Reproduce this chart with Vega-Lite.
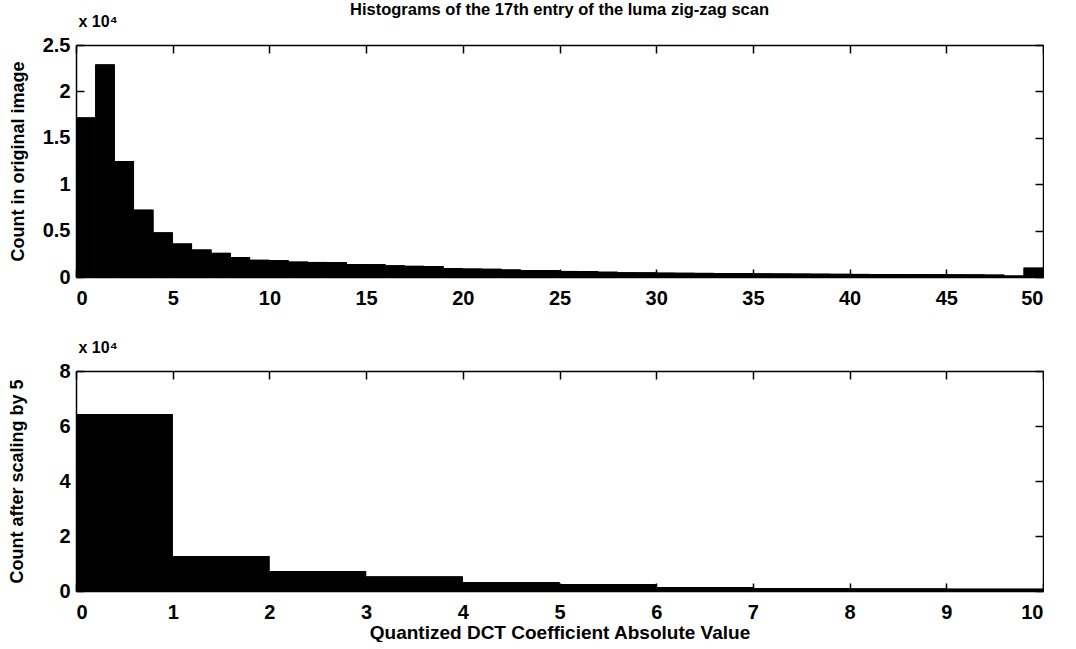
{
  "$schema": "https://vega.github.io/schema/vega-lite/v6.json",
  "background": "white",
  "padding": {"left": 8, "top": 1, "right": 0, "bottom": 0},
  "autosize": {"type": "pad"},
  "datasets": {
    "orig": [
      {"start": 0, "end": 1, "count": 17200},
      {"start": 1, "end": 2, "count": 22900},
      {"start": 2, "end": 3, "count": 12500},
      {"start": 3, "end": 4, "count": 7250},
      {"start": 4, "end": 5, "count": 4800},
      {"start": 5, "end": 6, "count": 3600},
      {"start": 6, "end": 7, "count": 2950},
      {"start": 7, "end": 8, "count": 2600},
      {"start": 8, "end": 9, "count": 2150},
      {"start": 9, "end": 10, "count": 1850},
      {"start": 10, "end": 11, "count": 1800},
      {"start": 11, "end": 12, "count": 1650},
      {"start": 12, "end": 13, "count": 1620},
      {"start": 13, "end": 14, "count": 1580},
      {"start": 14, "end": 15, "count": 1400},
      {"start": 15, "end": 16, "count": 1370},
      {"start": 16, "end": 17, "count": 1250},
      {"start": 17, "end": 18, "count": 1200},
      {"start": 18, "end": 19, "count": 1180},
      {"start": 19, "end": 20, "count": 950},
      {"start": 20, "end": 21, "count": 900},
      {"start": 21, "end": 22, "count": 880},
      {"start": 22, "end": 23, "count": 800},
      {"start": 23, "end": 24, "count": 750},
      {"start": 24, "end": 25, "count": 740},
      {"start": 25, "end": 26, "count": 650},
      {"start": 26, "end": 27, "count": 640},
      {"start": 27, "end": 28, "count": 560},
      {"start": 28, "end": 29, "count": 500},
      {"start": 29, "end": 30, "count": 490},
      {"start": 30, "end": 31, "count": 460},
      {"start": 31, "end": 32, "count": 450},
      {"start": 32, "end": 33, "count": 440},
      {"start": 33, "end": 34, "count": 430},
      {"start": 34, "end": 35, "count": 420},
      {"start": 35, "end": 36, "count": 380},
      {"start": 36, "end": 37, "count": 370},
      {"start": 37, "end": 38, "count": 360},
      {"start": 38, "end": 39, "count": 350},
      {"start": 39, "end": 40, "count": 340},
      {"start": 40, "end": 41, "count": 330},
      {"start": 41, "end": 42, "count": 320},
      {"start": 42, "end": 43, "count": 310},
      {"start": 43, "end": 44, "count": 300},
      {"start": 44, "end": 45, "count": 290},
      {"start": 45, "end": 46, "count": 280},
      {"start": 46, "end": 47, "count": 270},
      {"start": 47, "end": 48, "count": 250},
      {"start": 48, "end": 49, "count": 150},
      {"start": 49, "end": 50, "count": 1000}
    ],
    "scaled": [
      {"start": 0, "end": 1, "count": 64400},
      {"start": 1, "end": 2, "count": 12600},
      {"start": 2, "end": 3, "count": 7300},
      {"start": 3, "end": 4, "count": 5300},
      {"start": 4, "end": 5, "count": 3200},
      {"start": 5, "end": 6, "count": 2500},
      {"start": 6, "end": 7, "count": 1500},
      {"start": 7, "end": 8, "count": 1000},
      {"start": 8, "end": 9, "count": 900},
      {"start": 9, "end": 10, "count": 800}
    ]
  },
  "config": {
    "font": "Liberation Sans",
    "view": {"stroke": null},
    "axis": {
      "grid": false,
      "domainColor": "black",
      "domainWidth": 1.5,
      "tickColor": "black",
      "tickWidth": 1.5,
      "tickSize": -8,
      "labelFont": "Liberation Sans",
      "labelFontSize": 20,
      "labelFontWeight": "bold",
      "labelColor": "black",
      "titleFont": "Liberation Sans",
      "titleFontSize": 18,
      "titleFontWeight": "bold",
      "titleColor": "black"
    },
    "title": {"font": "Liberation Sans", "fontWeight": "bold", "color": "black"}
  },
  "vconcat": [
    {
      "width": 967,
      "height": 232,
      "data": {"name": "orig"},
      "title": {"text": "Histograms of the 17th entry of the luma zig-zag scan", "fontSize": 16.5, "anchor": "middle", "offset": -5},
      "layer": [
        {
          "mark": {"type": "bar", "color": "black"},
          "encoding": {
            "x": {"field": "start", "type": "quantitative", "scale": {"domain": [0, 50], "nice": false},
                  "axis": {"orient": "bottom", "values": [0,5,10,15,20,25,30,35,40,45,50], "title": null, "labelPadding": 19}},
            "x2": {"field": "end"},
            "y": {"field": "count", "type": "quantitative", "scale": {"domain": [0, 25000], "nice": false},
                  "axis": {"orient": "left", "values": [0,5000,10000,15000,20000,25000], "labelExpr": "datum.value / 10000", "labelPadding": 14, "title": "Count in original image", "titlePadding": 15}},
            "y2": {"datum": 0}
          }
        },
        {
          "mark": {"type": "bar", "color": "black"},
          "encoding": {
            "x": {"field": "start", "type": "quantitative", "scale": {"domain": [0, 50], "nice": false},
                  "axis": {"orient": "top", "values": [0,5,10,15,20,25,30,35,40,45,50], "labels": false, "title": null}},
            "x2": {"field": "end"},
            "y": {"field": "count", "type": "quantitative", "scale": {"domain": [0, 25000], "nice": false},
                  "axis": {"orient": "right", "values": [0,5000,10000,15000,20000,25000], "labels": false, "title": null}},
            "y2": {"datum": 0}
          }
        },
        {
          "mark": {"type": "bar", "color": "black"},
          "encoding": {
            "x": {"field": "start", "type": "quantitative", "axis": null},
            "x2": {"field": "end"},
            "y": {"field": "count", "type": "quantitative",
                  "axis": {"orient": "left", "domain": false, "ticks": false, "labels": false, "title": "x 10⁴", "titleAngle": 0, "titleX": 2, "titleY": -16, "titleAlign": "left", "titleBaseline": "bottom", "titleFontSize": 16}},
            "y2": {"datum": 0}
          }
        }
      ],
      "resolve": {"axis": {"x": "independent", "y": "independent"}}
    },
    {
      "width": 967,
      "height": 220,
      "data": {"name": "scaled"},
      "layer": [
        {
          "mark": {"type": "bar", "color": "black"},
          "encoding": {
            "x": {"field": "start", "type": "quantitative", "scale": {"domain": [0, 10], "nice": false},
                  "axis": {"orient": "bottom", "values": [0,1,2,3,4,5,6,7,8,9,10], "title": "Quantized DCT Coefficient Absolute Value", "titleFontSize": 19, "labelPadding": 19, "titlePadding": 1}},
            "x2": {"field": "end"},
            "y": {"field": "count", "type": "quantitative", "scale": {"domain": [0, 80000], "nice": false},
                  "axis": {"orient": "left", "values": [0,20000,40000,60000,80000], "labelExpr": "datum.value / 10000", "labelPadding": 14, "title": "Count after scaling by 5", "titlePadding": 32}},
            "y2": {"datum": 0}
          }
        },
        {
          "mark": {"type": "bar", "color": "black"},
          "encoding": {
            "x": {"field": "start", "type": "quantitative", "scale": {"domain": [0, 10], "nice": false},
                  "axis": {"orient": "top", "values": [0,1,2,3,4,5,6,7,8,9,10], "labels": false, "title": null}},
            "x2": {"field": "end"},
            "y": {"field": "count", "type": "quantitative", "scale": {"domain": [0, 80000], "nice": false},
                  "axis": {"orient": "right", "values": [0,20000,40000,60000,80000], "labels": false, "title": null}},
            "y2": {"datum": 0}
          }
        },
        {
          "mark": {"type": "bar", "color": "black"},
          "encoding": {
            "x": {"field": "start", "type": "quantitative", "axis": null},
            "x2": {"field": "end"},
            "y": {"field": "count", "type": "quantitative",
                  "axis": {"orient": "left", "domain": false, "ticks": false, "labels": false, "title": "x 10⁴", "titleAngle": 0, "titleX": 2, "titleY": -16, "titleAlign": "left", "titleBaseline": "bottom", "titleFontSize": 16}},
            "y2": {"datum": 0}
          }
        }
      ],
      "resolve": {"axis": {"x": "independent", "y": "independent"}}
    }
  ],
  "spacing": 31
}
